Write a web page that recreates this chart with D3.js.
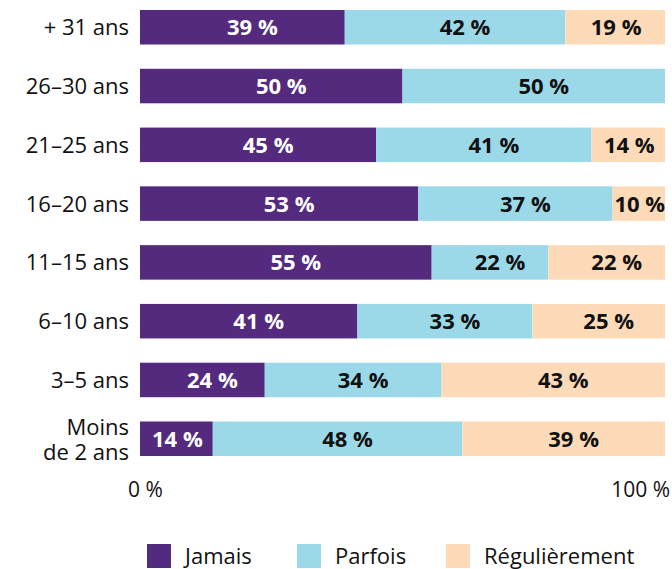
<!DOCTYPE html>
<html><head><meta charset="utf-8">
<script src="https://cdn.jsdelivr.net/npm/d3@7"></script>
<style>
html,body{margin:0;padding:0;background:#fff;}
text{font-family:"Open Sans", "Noto Sans", sans-serif;}
</style></head>
<body><svg id="c" width="672" height="569"></svg>
<script>
const categories = ["+ 31 ans","26–30 ans","21–25 ans","16–20 ans","11–15 ans","6–10 ans","3–5 ans","Moins de 2 ans"];
const seriesNames = ["Jamais","Parfois","Régulièrement"];
const jamais = [39,50,45,53,55,41,24,14];
const parfois = [42,50,41,37,22,33,34,48];
const regulierement = [19,0,14,10,22,25,43,39];
const colors = ["#542a7e","#9cd9e8","#fddab8"];
const textColors = ["#ffffff","#111111","#111111"];
const axisTicks = [0,100];
const axisLabels = ["0 %","100 %"];

const svg = d3.select("#c");
const x = d3.scaleLinear().domain([0,100]).range([140,665]);
const y = d3.scaleBand().domain(categories).range([10,456]).paddingInner(0.413).paddingOuter(0);

const series = [jamais, parfois, regulierement];
const rows = categories.map((c,i)=>{
  const vals = series.map(s=>s[i]);
  const tot = d3.sum(vals);
  let acc = 0;
  return vals.map((v,k)=>{ const s0 = acc/tot*100; acc += v; return {cat:c,k,v,x0:s0,x1:acc/tot*100}; });
});

const g = svg.append("g");
rows.forEach(r=>{
  r.filter(d=>d.v>0).forEach(d=>{
    g.append("rect").attr("x",x(d.x0)).attr("width",x(d.x1)-x(d.x0))
     .attr("y",y(d.cat)).attr("height",y.bandwidth()).attr("fill",colors[d.k]);
  });
});
rows.forEach(r=>{
  r.filter(d=>d.v>0).forEach(d=>{
    const w = x(d.x1)-x(d.x0);
    const dx = w>110 ? 10 : 1;
    g.append("text").attr("x",(x(d.x0)+x(d.x1))/2+dx).attr("y",y(d.cat)+y.bandwidth()/2)
     .attr("dy","0.36em").attr("text-anchor","middle").attr("font-weight","700")
     .attr("font-size",22).attr("fill",textColors[d.k]).text(d.v+" %");
  });
});

// category labels
categories.forEach(c=>{
  const t = g.append("text").attr("x",129).attr("text-anchor","end").attr("font-size",22).attr("fill","#111");
  const cy = y(c)+y.bandwidth()/2;
  if(c==="Moins de 2 ans"){
    t.append("tspan").attr("x",129).attr("y",cy-12).attr("dy","0.36em").text("Moins");
    t.append("tspan").attr("x",129).attr("y",cy+13).attr("dy","0.36em").text("de 2 ans");
  } else {
    t.attr("y",cy).attr("dy","0.36em").text(c);
  }
});

// axis
axisTicks.forEach((v,i)=>{
  g.append("text").attr("x", i===0 ? x(v)-12 : x(v)+5).attr("y",489).attr("dy","0.36em")
   .attr("text-anchor", i===0 ? "start" : "end").attr("font-size",21).attr("fill","#111").text(axisLabels[i]);
});

// legend
const legX = [147,297,446];
seriesNames.forEach((n,i)=>{
  g.append("rect").attr("x",legX[i]).attr("y",544).attr("width",24).attr("height",24).attr("fill",colors[i]);
  g.append("text").attr("x",legX[i]+38).attr("y",556).attr("dy","0.36em").attr("font-size",22).attr("fill","#111").text(n);
});
</script></body></html>
